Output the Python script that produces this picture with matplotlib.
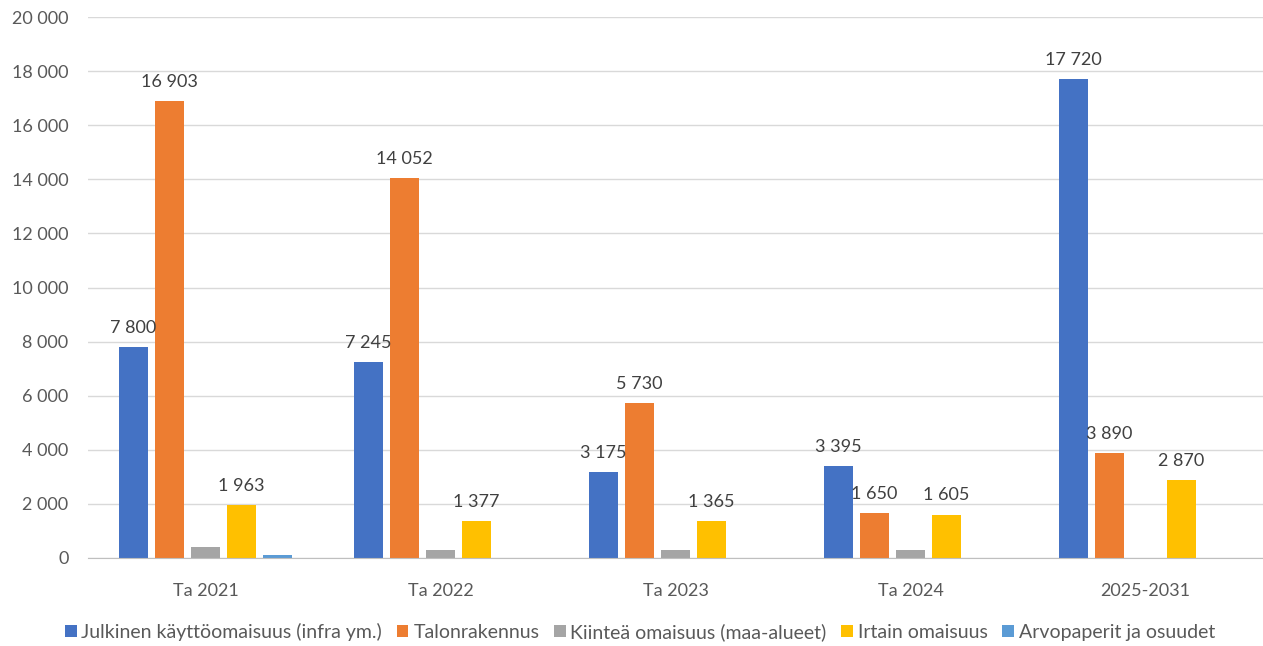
import numpy as np
import matplotlib
matplotlib.use("Agg")
import matplotlib.pyplot as plt
from matplotlib.ticker import FuncFormatter

plt.rcParams['font.family'] = ['Lato', 'DejaVu Sans']

categories = ['Ta 2021', 'Ta 2022', 'Ta 2023', 'Ta 2024', '2025-2031']
series_names = ['Julkinen käyttöomaisuus (infra ym.)', 'Talonrakennus',
                'Kiinteä omaisuus (maa-alueet)', 'Irtain omaisuus',
                'Arvopaperit ja osuudet']
julkinen = [7800, 7245, 3175, 3395, 17720]
talonrakennus = [16903, 14052, 5730, 1650, 3890]
kiintea = [410, 285, 285, 285, 0]
irtain = [1963, 1377, 1365, 1605, 2870]
arvopaperit = [100, 0, 0, 0, 0]
show_labels = [True, True, False, True, False]

colors = ['#4472C4', '#ED7D31', '#A5A5A5', '#FFC000', '#5B9BD5']
data = [julkinen, talonrakennus, kiintea, irtain, arvopaperit]


def fmt(v, pos=None):
    return f"{int(v):,}".replace(",", " ")


fig = plt.figure(figsize=(12.63, 6.46), dpi=100)
ax = fig.add_axes([88 / 1263, 1 - 558 / 646, 1 - 88 / 1263, (558 - 17) / 646])

x = np.arange(len(categories))
step = 36 / 235
width = 28.5 / 235
for i, (vals, col, name) in enumerate(zip(data, colors, series_names)):
    pos = x + (i - 2) * step
    bars = ax.bar(pos, vals, width, color=col, label=name, linewidth=0)
    if show_labels[i]:
        for b, v in zip(bars, vals):
            if v > 0:
                ax.annotate(fmt(v), (b.get_x() + b.get_width() / 2, v),
                            xytext=(0, 8), textcoords='offset points',
                            ha='center', va='bottom', fontsize=13,
                            color='#404040')

ax.set_xlim(-0.5, len(categories) - 0.5)
ax.set_ylim(0, 20000)
ax.set_yticks(range(0, 20001, 2000))
ax.yaxis.set_major_formatter(FuncFormatter(fmt))
ax.set_xticks(x)
ax.set_xticklabels(categories)
ax.tick_params(axis='both', length=0, labelsize=13, colors='#595959')
ax.tick_params(axis='y', pad=14)
ax.tick_params(axis='x', pad=18)
ax.grid(axis='y', color='#d9d9d9', linewidth=1)
ax.set_axisbelow(True)
for s in ['top', 'right', 'left']:
    ax.spines[s].set_visible(False)
ax.spines['bottom'].set_color('#bfbfbf')

leg = fig.legend(loc='center', bbox_to_anchor=(640 / 1263, 1 - 632 / 646), ncol=5,
                 frameon=False, fontsize=14, handlelength=0.6, handleheight=0.6,
                 handletextpad=0.25, columnspacing=0.75, labelcolor='#595959')

fig.savefig('out.png', dpi=100)
